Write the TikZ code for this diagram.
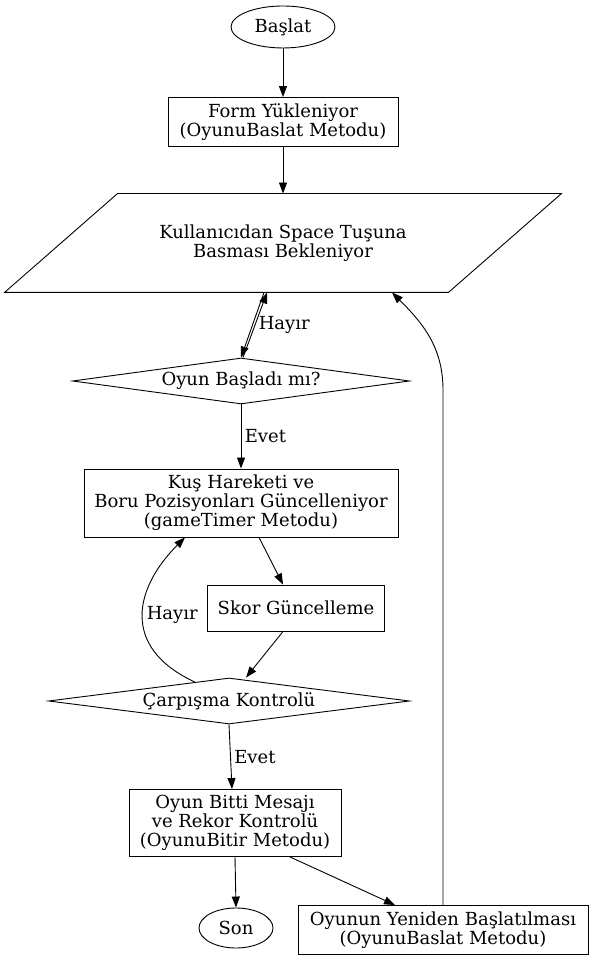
\documentclass[tikz,border=0pt]{standalone}
\usepackage{fontspec}
\setmainfont{DejaVu Serif}
\usetikzlibrary{shapes.geometric,arrows.meta}
\tikzstyle{arrow} = [->,>={Triangle[length=11pt,width=8pt]}]
\tikzstyle{box} = [rectangle, draw, align=center, inner sep=0pt]
\tikzstyle{oval} = [ellipse, draw, inner sep=0pt]
\tikzstyle{decision} = [diamond, draw, aspect=7, inner sep=0pt]
\tikzstyle{io} = [rectangle, align=center, inner sep=0pt]

\begin{document}
\begin{tikzpicture}[font=\fontsize{18}{19}\selectfont, line width=0.9pt]
        \useasboundingbox (0,0) rectangle (592pt,960pt);
        \node (start) [oval, minimum width=104pt, minimum height=42pt] at (283pt,933pt) {Başlat};
        \node (form) [box, below of=start, node distance=95pt, minimum width=230pt, minimum height=49pt] {Form Yükleniyor\\(OyunuBaslat Metodu)};
        \node (wait) [io, below of=form, node distance=121pt, minimum width=443pt, minimum height=98pt] {Kullanıcıdan Space Tuşuna\\Basması Bekleniyor};
        \node (ask) [decision, below of=wait, node distance=138pt, xshift=-42pt, minimum width=337pt, minimum height=46pt] {Oyun Başladı mı?};
        \node (move) [box, below of=ask, node distance=122pt, minimum width=314pt, minimum height=68pt] {Kuş Hareketi ve\\Boru Pozisyonları Güncelleniyor\\(gameTimer Metodu)};
        \node (score) [box, below of=move, node distance=105pt, xshift=55pt, minimum width=177pt, minimum height=46pt] {Skor Güncelleme};
        \node (hit) [decision, below of=score, node distance=93pt, xshift=-67pt, minimum width=361pt, minimum height=46pt] {Çarpışma Kontrolü};
        \node (over) [box, below of=hit, node distance=122pt, xshift=6pt, minimum width=212pt, minimum height=67pt] {Oyun Bitti Mesajı\\ve Rekor Kontrolü\\(OyunuBitir Metodu)};
        \node (stop) [oval, below of=over, node distance=105pt, xshift=1pt, minimum width=74pt, minimum height=40pt] {Son};
        \node (restart) [box, right of=stop, node distance=207pt, yshift=-2pt, minimum width=290pt, minimum height=49pt] {Oyunun Yeniden Başlatılması\\(OyunuBaslat Metodu)};

        % slanted input box round the waiting text
        \draw ([xshift=-56.5pt]wait.south west) -- ([xshift=-56.5pt]wait.south east) -- ([xshift=56.5pt]wait.north east) -- ([xshift=56.5pt]wait.north west) -- cycle;

        \draw [arrow] (start) -- (form);
        \draw [arrow] (form) -- (wait);
        \draw [arrow] ([xshift=-19pt]wait.south) -- (ask.north);
        \draw [arrow] ([xshift=2pt]ask.north) -- node[right] {Hayır} ([xshift=-16pt]wait.south);
        \draw [arrow] (ask.south) -- node[right] {Evet} (move.north);
        \draw [arrow] ([xshift=18pt]move.south) -- ([xshift=-13pt]score.north);
        \draw [arrow] ([xshift=-13pt]score.south) -- ([xshift=17pt]hit.north);
        \draw [arrow] (hit.151) .. controls +(-75pt,35pt) and +(-50pt,-50pt) .. node[right] {Hayır} ([xshift=-56pt]move.south);
        \draw [arrow] (hit.south) -- node[right] {Evet} ([xshift=-3pt]over.north);
        \draw [arrow] (over.south) -- (stop.north);
        \draw [arrow] ([xshift=55pt]over.south) -- ([xshift=-48pt]restart.north);
        \draw [arrow] (restart.north) -- ++(0,515pt) to[out=90, in=-45] ([xshift=109pt]wait.south);

    \end{tikzpicture}
\end{document}
